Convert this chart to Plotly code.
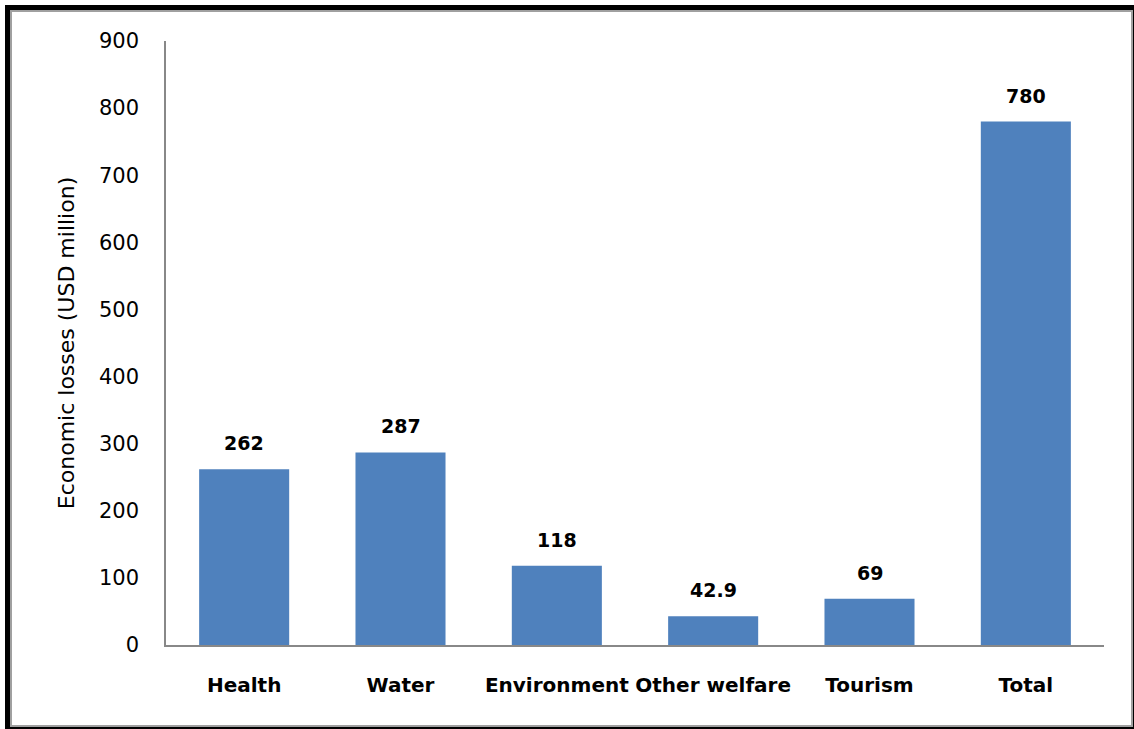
import plotly.graph_objects as go

categories = ["Health", "Water", "Environment", "Other welfare", "Tourism", "Total"]
values = [262, 287, 118, 42.9, 69, 780]
labels = ["262", "287", "118", "42.9", "69", "780"]
y_title = "Economic losses (USD million)"
y_ticks = [0, 100, 200, 300, 400, 500, 600, 700, 800, 900]

W, H = 1134, 729
L, R, T, B = 166, 30, 41, 84
PW, PH = W - L - R, H - T - B

def px(x):
    return (x - L) / PW

def py(y):
    return (H - B - y) / PH

FONT = "'DejaVu Sans', Verdana, sans-serif"

fig = go.Figure()
fig.add_trace(go.Bar(
    x=categories, y=values,
    marker=dict(color="#4F81BD", line=dict(width=0)),
    width=0.576,
    hoverinfo="x+y",
))

for c, v, t in zip(categories, values, labels):
    fig.add_annotation(x=c, y=v, text="<b>%s</b>" % t, showarrow=False,
                       yanchor="middle", yshift=26,
                       font=dict(family=FONT, size=19, color="#000000"))

# outer frame (shadow border)
fig.add_shape(type="rect", xref="paper", yref="paper",
              x0=px(5), x1=px(1140), y0=py(5), y1=py(735),
              fillcolor="#000000", line=dict(width=0), layer="below")
fig.add_shape(type="rect", xref="paper", yref="paper",
              x0=px(11), x1=px(1132), y0=py(11), y1=py(726),
              fillcolor="#FFFFFF", line=dict(color="#A0A0A0", width=2), layer="below")

fig.update_layout(
    width=W, height=H,
    margin=dict(l=L, r=R, t=T, b=B),
    paper_bgcolor="#FFFFFF",
    plot_bgcolor="rgba(0,0,0,0)",
    showlegend=False,
    font=dict(family=FONT, color="#000000"),
    xaxis=dict(
        showline=True, linecolor="#888888", linewidth=1.5,
        showgrid=False, ticks="", ticklabelstandoff=21,
        tickfont=dict(family=FONT, size=20, color="#000000", weight="bold"),
        range=[-0.5, 5.5],
    ),
    yaxis=dict(
        range=[0, 900], tickvals=y_ticks,
        showline=True, linecolor="#888888", linewidth=1.5,
        showgrid=False, zeroline=False, ticks="", ticklabelstandoff=21,
        tickfont=dict(family=FONT, size=21, color="#000000"),
        title=dict(text=y_title, standoff=18,
                   font=dict(family=FONT, size=22, color="#000000")),
    ),
)

fig.write_html("out.html")
